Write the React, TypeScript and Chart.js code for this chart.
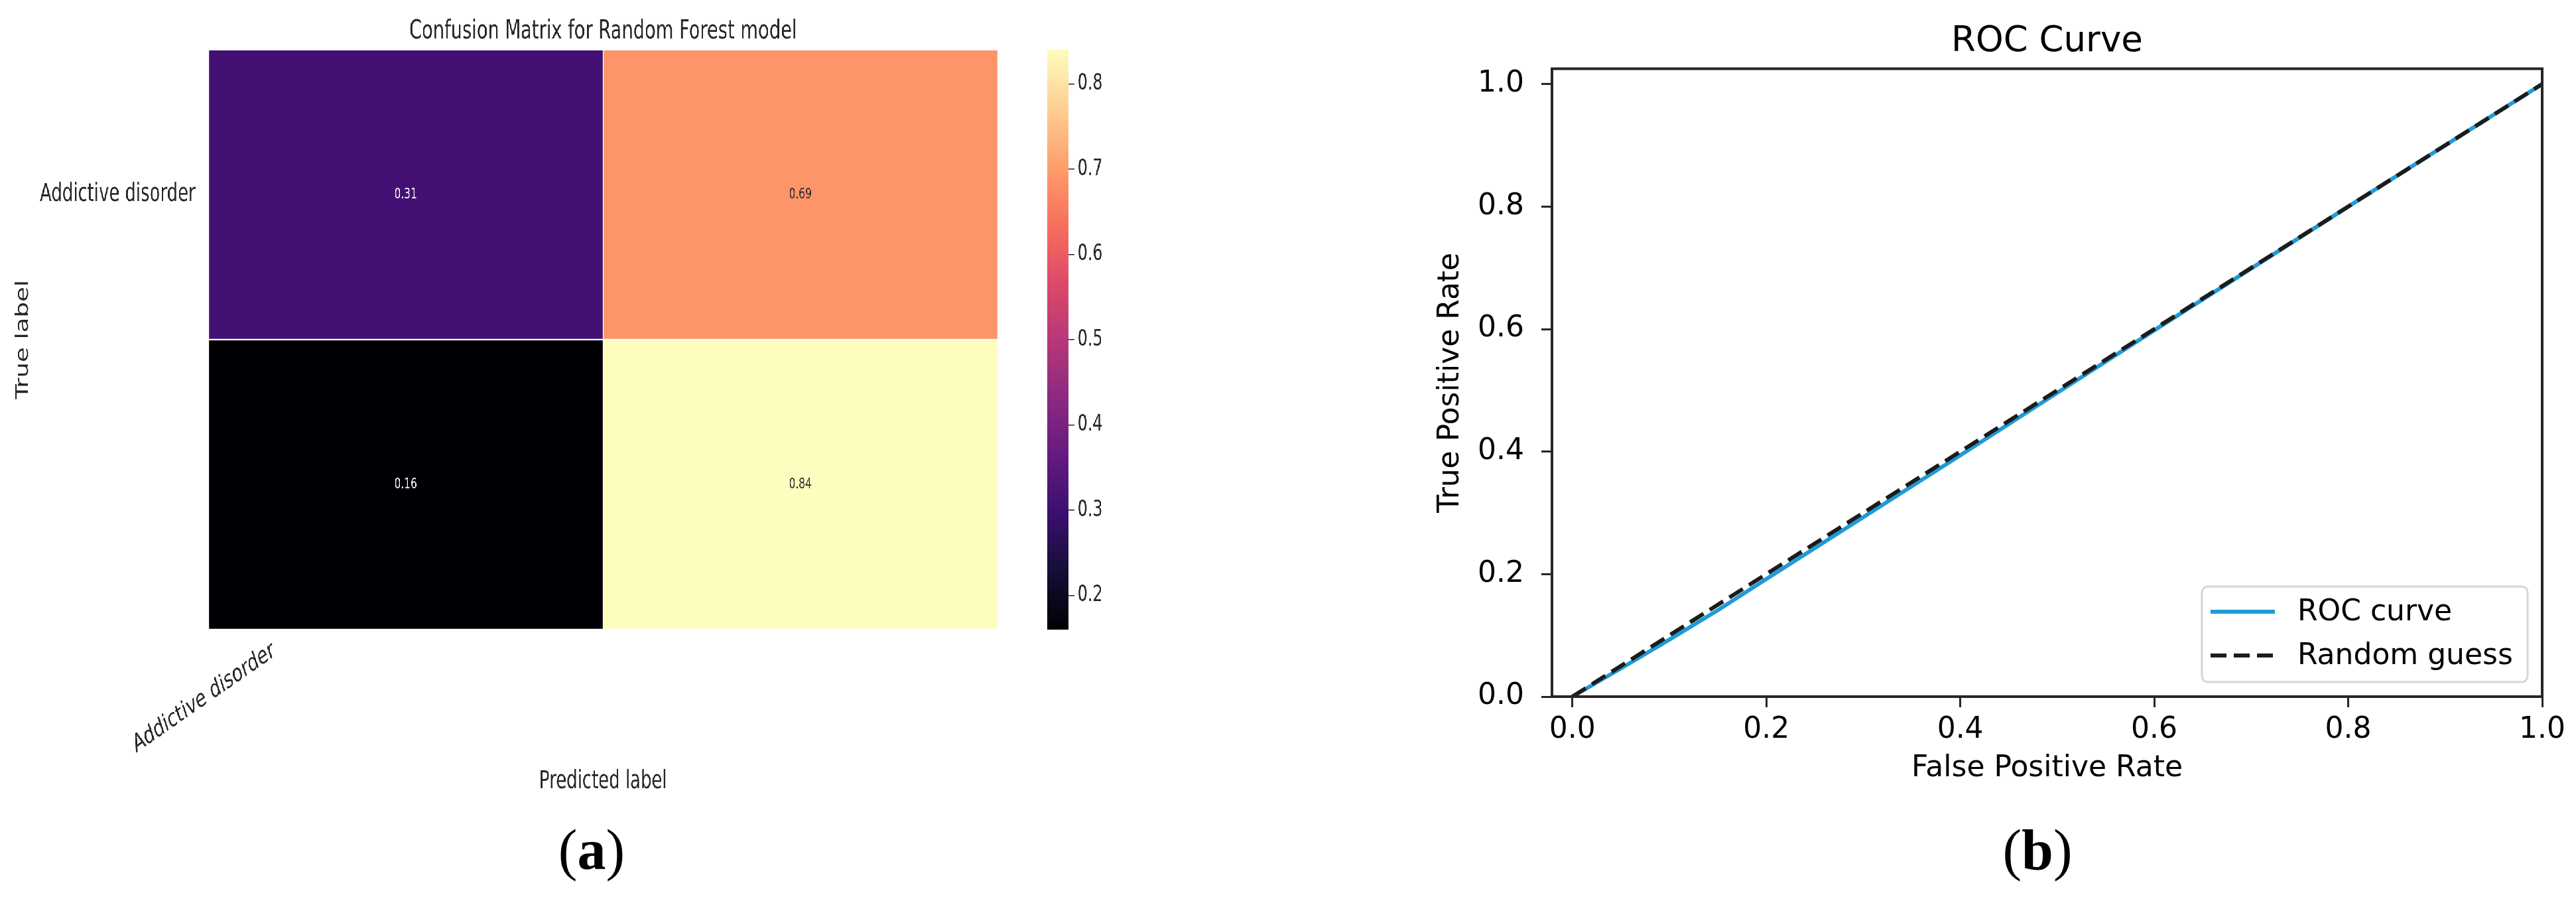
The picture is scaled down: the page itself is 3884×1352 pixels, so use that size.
import React, { useEffect, useRef } from 'react';
import { Chart, registerables } from 'chart.js';

Chart.register(...registerables);

// ---------------- data ----------------
const predictedTickLabels = ['Addictive disorder'];
const predictedTickPositions = [0];
const trueTickLabels = ['Addictive disorder'];
const trueTickPositions = [0.5];
const matrixRow0 = [0.31, 0.69];
const matrixRow1 = [0.16, 0.84];
const matrixRows = [matrixRow0, matrixRow1];
const colorbarMin = 0.16;
const colorbarMax = 0.84;
const colorbarTicks = [0.2, 0.3, 0.4, 0.5, 0.6, 0.7, 0.8];

const rocFpr = [0, 0.05, 0.1, 0.15, 0.2, 0.3, 0.4, 0.5, 0.6, 0.7, 0.8, 0.9, 1.0];
const rocTpr = [0, 0.046, 0.093, 0.141, 0.192, 0.293, 0.394, 0.496, 0.598, 0.699, 0.8, 0.9, 1.0];
const guessFpr = [0, 1];
const guessTpr = [0, 1];
const rocTicks = [0, 0.2, 0.4, 0.6, 0.8, 1.0];

// ---------------- style ----------------
const FONT = "'DejaVu Sans', 'Noto Sans', sans-serif";
const MAGMA = ['#000004', '#140e36', '#3b0f70', '#641a80', '#8c2981', '#b73779', '#de4968', '#f7705c', '#fe9f6d', '#fecf92', '#fcfdbf'];
const SQUEEZE = 0.7;

function hexToRgb(h: string) {
  const n = parseInt(h.slice(1), 16);
  return [(n >> 16) & 255, (n >> 8) & 255, n & 255];
}
function magmaRgb(t: number) {
  const tt = Math.max(0, Math.min(1, t));
  const p = tt * (MAGMA.length - 1);
  const i = Math.min(Math.floor(p), MAGMA.length - 2);
  const f = p - i;
  const a = hexToRgb(MAGMA[i]);
  const b = hexToRgb(MAGMA[i + 1]);
  return [0, 1, 2].map((k) => Math.round(a[k] + (b[k] - a[k]) * f));
}
function magma(v: number) {
  const c = magmaRgb((v - colorbarMin) / (colorbarMax - colorbarMin));
  return `rgb(${c[0]},${c[1]},${c[2]})`;
}
function textColorFor(v: number) {
  const c = magmaRgb((v - colorbarMin) / (colorbarMax - colorbarMin));
  const lum = 0.2126 * c[0] + 0.7152 * c[1] + 0.0722 * c[2];
  return lum < 104 ? '#ffffff' : '#262626';
}

// layout constants (unsqueezed px for the left panel)
const H = 1230;
const HEAT_W = 2236;
const HM_RIGHT = 2149;
const HM_LEFT = 449;
const HM_BOTTOM = 949;
const CB_LEFT = 2236;
const CB_W = 221;
const CB_PAD_L = 20;
const CB_BAR_W = 45;
const ROC_LEFT = 2100;
const ROC_W = 1784;
const ROC_AREA_LEFT = 240;
const ROC_AREA_RIGHT = 1733;
const ROC_AREA_BOTTOM = 1050;

const cellTextPlugin = {
  id: 'cellText',
  afterDatasetsDraw(chart: any) {
    const ctx = chart.ctx;
    ctx.save();
    ctx.font = `22px ${FONT}`;
    ctx.textAlign = 'center';
    ctx.textBaseline = 'middle';
    chart.data.datasets.forEach((ds: any, i: number) => {
      const meta = chart.getDatasetMeta(i);
      meta.data.forEach((el: any, j: number) => {
        const v = matrixRows[i][j];
        const p = el.getProps(['x', 'y', 'base'], true);
        ctx.fillStyle = textColorFor(v);
        ctx.fillText(v.toFixed(2), p.x, (p.y + p.base) / 2);
      });
    });
    ctx.restore();
  },
};

const framePlugin = {
  id: 'frame',
  afterDatasetsDraw(chart: any) {
    const { ctx, chartArea: a } = chart;
    ctx.save();
    ctx.strokeStyle = '#262626';
    ctx.lineWidth = 4;
    ctx.strokeRect(a.left, a.top, a.right - a.left, a.bottom - a.top);
    ctx.restore();
  },
};

const rocLegendPlugin = {
  id: 'rocLegend',
  afterDraw(chart: any) {
    const { ctx, chartArea: a } = chart;
    const boxW = 491;
    const boxH = 144;
    const x0 = a.right - 22 - boxW;
    const y0 = a.bottom - 22 - boxH;
    ctx.save();
    ctx.beginPath();
    (ctx as any).roundRect(x0, y0, boxW, boxH, 9);
    ctx.fillStyle = 'rgba(255,255,255,0.85)';
    ctx.fill();
    ctx.lineWidth = 3;
    ctx.strokeStyle = '#d6d6d6';
    ctx.stroke();
    chart.data.datasets.forEach((ds: any, i: number) => {
      const yy = y0 + 38 + i * 66;
      ctx.beginPath();
      ctx.setLineDash(ds.borderDash || []);
      ctx.strokeStyle = ds.borderColor;
      ctx.lineWidth = ds.borderWidth;
      ctx.moveTo(x0 + 13, yy);
      ctx.lineTo(x0 + 110, yy);
      ctx.stroke();
      ctx.setLineDash([]);
      ctx.fillStyle = '#000000';
      ctx.font = `44px ${FONT}`;
      ctx.textAlign = 'left';
      ctx.textBaseline = 'middle';
      ctx.fillText(ds.label, x0 + 144, yy + 2);
    });
    ctx.restore();
  },
};

export default function App() {
  const heatRef = useRef<HTMLCanvasElement>(null);
  const cbRef = useRef<HTMLCanvasElement>(null);
  const rocRef = useRef<HTMLCanvasElement>(null);

  useEffect(() => {
    Chart.defaults.font.family = FONT;
    const charts: Chart[] = [];

    // ---------- heatmap ----------
    const heat = new Chart(heatRef.current as HTMLCanvasElement, {
      type: 'bar',
      data: {
        datasets: matrixRows.map((row, r) => ({
          label: `row ${r}`,
          data: row.map((_, c) => ({ x: c + 0.5, y: [r, r + 1] })),
          backgroundColor: row.map((v) => magma(v)),
          borderColor: '#ffffff',
          borderWidth: 1.5,
          borderSkipped: false,
          barPercentage: 1,
          categoryPercentage: 1,
          grouped: false,
        })) as any,
      },
      options: {
        responsive: false,
        animation: false,
        devicePixelRatio: 1,
        layout: { padding: { left: 0, right: HEAT_W - HM_RIGHT, top: 0, bottom: 0 } },
        plugins: {
          legend: { display: false },
          tooltip: { enabled: false },
          title: {
            display: true,
            text: 'Confusion Matrix for Random Forest model',
            fullSize: false,
            color: '#262626',
            font: { family: FONT, size: 39, weight: 'normal' },
            padding: { top: 24, bottom: 4 },
          },
        },
        scales: {
          x: {
            type: 'linear',
            min: 0,
            max: 2,
            offset: false,
            grid: { display: false, drawTicks: false },
            border: { display: false },
            afterBuildTicks: (s: any) => {
              s.ticks = predictedTickPositions.map((v) => ({ value: v }));
            },
            afterFit: (s: any) => {
              s.height = H - HM_BOTTOM;
              s.paddingLeft = 0;
              s.paddingRight = 0;
            },
            ticks: {
              autoSkip: false,
              minRotation: 26,
              maxRotation: 26,
              labelOffset: 141,
              padding: 10,
              color: '#262626',
              font: { family: FONT, size: 37 },
              callback: (_v: any, i: number) => predictedTickLabels[i],
            },
            title: {
              display: true,
              text: 'Predicted label',
              color: '#262626',
              font: { family: FONT, size: 37 },
              padding: { top: 0, bottom: 29 },
            },
          },
          y: {
            type: 'linear',
            min: 0,
            max: 2,
            reverse: true,
            grid: { display: false, drawTicks: false },
            border: { display: false },
            afterBuildTicks: (s: any) => {
              s.ticks = trueTickPositions.map((v) => ({ value: v }));
            },
            afterFit: (s: any) => {
              s.width = HM_LEFT;
              s.paddingTop = 0;
              s.paddingBottom = 0;
            },
            ticks: {
              autoSkip: false,
              padding: 28,
              color: '#262626',
              font: { family: FONT, size: 37 },
              callback: (_v: any, i: number) => trueTickLabels[i],
            },
            title: {
              display: true,
              text: 'True label',
              color: '#262626',
              font: { family: FONT, size: 37 },
              padding: { top: 28, bottom: 0 },
            },
          },
        },
      } as any,
      plugins: [cellTextPlugin],
    });
    charts.push(heat);

    // ---------- colorbar ----------
    const cb = new Chart(cbRef.current as HTMLCanvasElement, {
      type: 'bar',
      data: {
        labels: ['scale'],
        datasets: [
          {
            label: 'scale',
            data: [[colorbarMin, colorbarMax]] as any,
            backgroundColor: (ctx: any) => {
              const area = ctx.chart.chartArea;
              if (!area) return '#000004';
              const g = ctx.chart.ctx.createLinearGradient(0, area.bottom, 0, area.top);
              MAGMA.forEach((c, i) => g.addColorStop(i / (MAGMA.length - 1), c));
              return g;
            },
            borderWidth: 0,
            barPercentage: 1,
            categoryPercentage: 1,
          },
        ],
      },
      options: {
        responsive: false,
        animation: false,
        devicePixelRatio: 1,
        layout: { padding: { left: CB_PAD_L, right: 0, top: 75, bottom: H - HM_BOTTOM } },
        plugins: { legend: { display: false }, tooltip: { enabled: false }, title: { display: false } },
        scales: {
          x: { display: false },
          y: {
            position: 'right',
            min: colorbarMin,
            max: colorbarMax,
            afterBuildTicks: (s: any) => {
              s.ticks = colorbarTicks.map((v) => ({ value: v }));
            },
            afterFit: (s: any) => {
              s.width = CB_W - CB_PAD_L - CB_BAR_W;
              s.paddingTop = 0;
              s.paddingBottom = 0;
            },
            grid: { drawOnChartArea: false, drawTicks: true, tickLength: 13, color: '#262626', lineWidth: 1.5 },
            border: { display: false },
            ticks: {
              padding: 7,
              color: '#262626',
              font: { family: FONT, size: 34 },
              callback: (v: any) => Number(v).toFixed(1),
            },
          },
        },
      } as any,
    });
    charts.push(cb);

    // ---------- ROC ----------
    const roc = new Chart(rocRef.current as HTMLCanvasElement, {
      type: 'line',
      data: {
        datasets: [
          {
            label: 'ROC curve',
            data: rocFpr.map((x, i) => ({ x, y: rocTpr[i] })),
            borderColor: '#1f9bd7',
            backgroundColor: '#1f9bd7',
            borderWidth: 6,
            pointRadius: 0,
            tension: 0,
            fill: false,
            order: 2,
          },
          {
            label: 'Random guess',
            data: guessFpr.map((x, i) => ({ x, y: guessTpr[i] })),
            borderColor: '#1c1c1c',
            backgroundColor: '#1c1c1c',
            borderWidth: 6,
            borderDash: [24, 11],
            pointRadius: 0,
            tension: 0,
            fill: false,
            order: 1,
          },
        ],
      },
      options: {
        responsive: false,
        animation: false,
        devicePixelRatio: 1,
        layout: { padding: { left: 0, right: ROC_W - ROC_AREA_RIGHT, top: 0, bottom: 0 } },
        plugins: {
          legend: { display: false },
          tooltip: { enabled: false },
          title: {
            display: true,
            text: 'ROC Curve',
            fullSize: false,
            color: '#000000',
            font: { family: FONT, size: 53, weight: 'normal' },
            padding: { top: 31, bottom: 9 },
          },
        },
        scales: {
          x: {
            type: 'linear',
            min: -0.021,
            max: 1.0,
            afterBuildTicks: (s: any) => {
              s.ticks = rocTicks.map((v) => ({ value: v }));
            },
            afterFit: (s: any) => {
              s.height = H - ROC_AREA_BOTTOM;
              s.paddingLeft = 0;
              s.paddingRight = 0;
            },
            grid: { drawOnChartArea: false, drawTicks: true, tickLength: 16, lineWidth: 3, color: '#262626' },
            border: { display: false },
            ticks: {
              autoSkip: false,
              maxRotation: 0,
              padding: 8,
              color: '#000000',
              font: { family: FONT, size: 44 },
              callback: (v: any) => Number(v).toFixed(1),
            },
            title: {
              display: true,
              text: 'False Positive Rate',
              color: '#000000',
              font: { family: FONT, size: 44 },
              padding: { top: 0, bottom: 45 },
            },
          },
          y: {
            type: 'linear',
            min: 0,
            max: 1.025,
            afterBuildTicks: (s: any) => {
              s.ticks = rocTicks.map((v) => ({ value: v }));
            },
            afterFit: (s: any) => {
              s.width = ROC_AREA_LEFT;
              s.paddingTop = 0;
              s.paddingBottom = 0;
            },
            grid: { drawOnChartArea: false, drawTicks: true, tickLength: 16, lineWidth: 3, color: '#262626' },
            border: { display: false },
            ticks: {
              autoSkip: false,
              padding: 26,
              color: '#000000',
              font: { family: FONT, size: 44 },
              callback: (v: any) => Number(v).toFixed(1),
            },
            title: {
              display: true,
              text: 'True Positive Rate',
              color: '#000000',
              font: { family: FONT, size: 44 },
              padding: { top: 61, bottom: 0 },
            },
          },
        },
      } as any,
      plugins: [framePlugin, rocLegendPlugin],
    });
    charts.push(roc);

    return () => {
      charts.forEach((c) => c.destroy());
    };
  }, []);

  const captionStyle = (center: number): React.CSSProperties => ({
    position: 'absolute',
    left: center - 150,
    width: 300,
    top: 1238,
    textAlign: 'center',
    fontFamily: "'Liberation Serif', 'DejaVu Serif', serif",
    fontSize: 86,
    lineHeight: '86px',
    color: '#000',
  });

  return (
    <div style={{ position: 'absolute', left: 0, top: 0, width: 3884, height: 1352, background: '#ffffff', overflow: 'hidden' }}>
      <div
        style={{
          position: 'absolute',
          left: 0,
          top: 0,
          width: CB_LEFT + CB_W,
          height: H,
          transform: `scaleX(${SQUEEZE})`,
          transformOrigin: '0 0',
        }}
      >
        <canvas ref={heatRef} width={HEAT_W} height={H} style={{ position: 'absolute', left: 0, top: 0 }} />
        <canvas ref={cbRef} width={CB_W} height={H} style={{ position: 'absolute', left: CB_LEFT, top: 0 }} />
      </div>
      <canvas ref={rocRef} width={ROC_W} height={H} style={{ position: 'absolute', left: ROC_LEFT, top: 0 }} />
      <div style={captionStyle(892)}>
        (<b>a</b>)
      </div>
      <div style={captionStyle(3072)}>
        (<b>b</b>)
      </div>
    </div>
  );
}
